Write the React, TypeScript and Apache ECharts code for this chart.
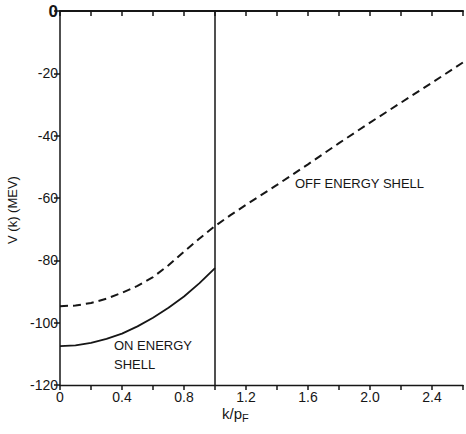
import React, { useEffect, useRef } from "react";
import * as echarts from "echarts";

const kOn: number[] = [0, 0.1, 0.2, 0.3, 0.4, 0.5, 0.6, 0.7, 0.8, 0.9, 1.0];
const vOnShell: number[] = [-107.5, -107.3, -106.5, -105.2, -103.5, -101.2, -98.4, -95.2, -91.6, -87.3, -82.5];

const kOff: number[] = [0, 0.1, 0.2, 0.3, 0.4, 0.5, 0.6, 0.7, 0.8, 0.9, 1.0, 1.1, 1.2, 1.4, 1.6, 1.8, 2.0, 2.2, 2.4, 2.6];
const vOffShell: number[] = [-94.7, -94.5, -93.7, -92.3, -90.4, -88.2, -85.4, -81.6, -77.2, -73.0, -69, -65.5, -62.2, -55.8, -49.2, -42.4, -35.8, -29.4, -23, -16.5];

const fermiK = 1.0;
const font = "'Liberation Sans', 'DejaVu Sans', sans-serif";
const ink = "#161616";

export default function App() {
  const ref = useRef<HTMLDivElement>(null);
  useEffect(() => {
    if (!ref.current) return;
    const chart = echarts.init(ref.current, null, { renderer: "svg" });
    const xFmt = (v: number) => {
      const t = Math.round(v * 10);
      if (t % 4 !== 0) return "";
      return t === 0 ? "0" : (t / 10).toFixed(1);
    };
    chart.setOption({
      animation: false,
      backgroundColor: "#ffffff",
      grid: { left: 60, top: 11, right: 0, bottom: 49, containLabel: false },
      xAxis: [
        {
          type: "value",
          min: 0,
          max: 2.6,
          interval: 0.2,
          position: "bottom",
          axisLine: { show: true, onZero: false, lineStyle: { color: ink, width: 1.3 } },
          axisTick: { show: true, inside: false, interval: 0, length: 5, lineStyle: { color: ink, width: 1.5 } },
          axisLabel: { formatter: xFmt, color: ink, fontSize: 14, fontFamily: font, margin: 5 },
          splitLine: { show: false },
        },
        {
          type: "value",
          min: 0,
          max: 2.6,
          interval: 0.2,
          position: "top",
          axisLine: { show: true, onZero: false, lineStyle: { color: ink, width: 2 } },
          axisTick: { show: true, inside: true, interval: 0, length: 5, lineStyle: { color: ink, width: 1.5 } },
          axisLabel: { show: false },
          splitLine: { show: false },
        },
      ],
      yAxis: {
        type: "value",
        min: -120,
        max: 0,
        interval: 20,
        axisLine: { show: true, onZero: false, lineStyle: { color: ink, width: 1.5 } },
        axisTick: { show: true, inside: false, length: 6, lineStyle: { color: ink, width: 1.5 } },
        axisLabel: {
          color: ink,
          fontSize: 14,
          fontFamily: font,
          margin: 2,
          formatter: (v: number) => (v === 0 ? "{z|0}" : String(v)),
          rich: { z: { fontSize: 17, fontWeight: "bold", fontFamily: font, color: ink } },
        },
        splitLine: { show: false },
      },
      series: [
        {
          name: "Off energy shell",
          type: "line",
          data: kOff.map((k, i) => [k, vOffShell[i]]),
          smooth: false,
          showSymbol: false,
          symbol: "none",
          lineStyle: { color: ink, width: 2, type: [8, 5] },
          markLine: {
            silent: true,
            symbol: "none",
            label: { show: false },
            lineStyle: { color: ink, width: 1.5, type: "solid" },
            data: [{ xAxis: fermiK }],
          },
        },
        {
          name: "On energy shell",
          type: "line",
          data: kOn.map((k, i) => [k, vOnShell[i]]),
          smooth: false,
          showSymbol: false,
          symbol: "none",
          lineStyle: { color: ink, width: 1.8, type: "solid" },
        },
      ],
      graphic: [
        {
          type: "text",
          left: 114,
          top: 336,
          style: { text: "ON ENERGY\nSHELL", fill: ink, font: `13px ${font}`, lineHeight: 19 },
        },
        {
          type: "text",
          left: 295,
          top: 177,
          style: { text: "OFF ENERGY SHELL", fill: ink, font: `13px ${font}` },
        },
        {
          type: "text",
          x: 12,
          y: 210,
          rotation: Math.PI / 2,
          style: {
            text: "V (k) (MEV)",
            fill: ink,
            font: `13px ${font}`,
            align: "center",
            verticalAlign: "middle",
          },
        },
        {
          type: "text",
          x: 222,
          y: 404,
          style: {
            text: "k/p{s|F}",
            fill: ink,
            font: `15px ${font}`,
            rich: { s: { fontSize: 11, fontFamily: font, padding: [8, 0, 0, 0], fill: ink } },
          },
        },
      ],
    });
    return () => chart.dispose();
  }, []);
  return (
    <div
      ref={ref}
      style={{ position: "absolute", left: 0, top: 0, width: 466, height: 434 }}
    />
  );
}
